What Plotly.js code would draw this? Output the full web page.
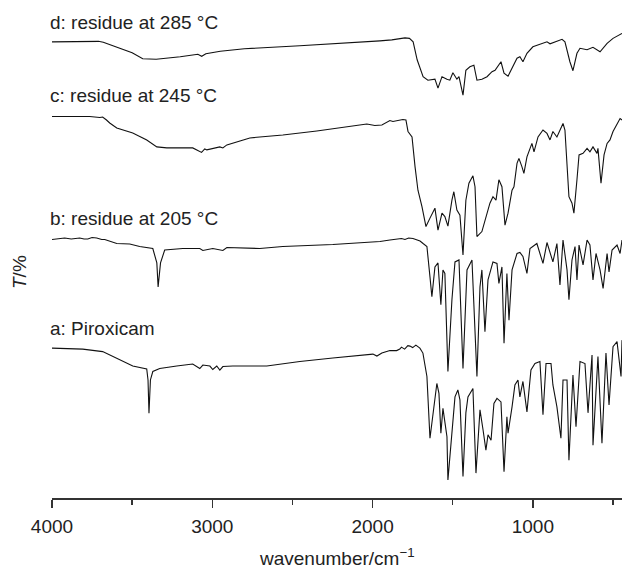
<!DOCTYPE html>
<html>
<head>
<meta charset="utf-8">
<script src="https://cdn.plot.ly/plotly-3.0.1.min.js"></script>
<style>html,body{margin:0;padding:0;background:#fff;}#chart{width:622px;height:572px;}</style>
</head>
<body>
<div id="chart"></div>
<script>
// Series labels
const labels = ["a: Piroxicam", "b: residue at 205 °C", "c: residue at 245 °C", "d: residue at 285 °C"];
const labelY = [34.1, 56.2, 80.9, 95.4];

// d: residue at 285 °C
const wn_d = [4000,3800,3710,3680,3600,3500,3434,3350,3200,3090,3066,3040,2950,2800,2454,2200,2000,1954,1880,1830,1798,1770,1747,1722,1685,1655,1611,1592,1567,1536,1518,1499,1474,1461,1436,1418,1393,1368,1349,1318,1286,1255,1236,1199,1180,1155,1130,1099,1081,1062,1037,1000,912,893,818,800,769,750,725,706,662,625,581,537,500,444];
const T_d = [91.6,91.6,91.7,91.5,90.6,89.4,88.2,88.1,88.6,89.1,88.7,89.2,89.7,90.2,90.8,91.3,91.6,91.8,92.0,92.2,92.4,92.3,91.6,88.0,84.6,83.9,84.1,82.3,84.6,84.1,83.9,85.4,84.1,84.6,80.9,85.9,86.6,86.9,83.9,84.1,84.6,85.6,85.9,87.6,85.3,84.7,86.3,88.3,88.6,87.6,89.3,90.6,91.6,91.2,92.1,91.6,87.6,85.8,89.3,90.3,90.0,90.5,89.6,91.3,92.3,93.3];

// c: residue at 245 °C
const wn_c = [4000,3827,3765,3702,3684,3660,3640,3596,3496,3409,3346,3284,3122,3067,3047,3034,2953,2934,2909,2766,2560,2348,2036,1986,1942,1892,1873,1811,1792,1779,1754,1735,1717,1692,1667,1642,1611,1592,1567,1549,1530,1505,1493,1474,1455,1436,1418,1399,1374,1361,1349,1318,1299,1268,1249,1230,1212,1193,1174,1155,1130,1118,1099,1087,1068,1056,1037,1006,993,968,937,912,893,875,850,812,800,787,775,756,744,725,712,687,662,644,625,600,594,575,556,537,519,500,475,456,444];
const T_c = [76.6,76.5,76.6,76.4,76.5,75.9,75.3,74.3,73.3,71.9,70.5,70.3,70.3,69.4,70.1,69.9,70.5,70.3,70.9,72.3,72.9,73.7,75.1,74.8,74.9,75.8,75.6,76.0,75.9,73.6,72.5,66.5,61.8,58.5,54.5,56.2,58.2,53.8,57.2,56.5,54.6,59.8,61.5,57.8,56.8,48.8,59.8,63.2,64.7,62.5,52.5,53.5,55.8,59.2,60.5,59.8,63.9,62.5,54.8,57.2,61.8,62.5,67.2,68.2,66.5,65.2,68.5,71.2,69.5,72.5,73.9,73.2,71.9,73.6,72.5,75.2,73.9,66.5,60.5,59.2,57.2,63.9,68.9,69.2,70.2,69.5,70.5,69.2,70.2,63.2,68.9,71.2,71.9,73.6,75.2,76.2,75.9];

// b: residue at 205 °C
const wn_b = [4000,3950,3921,3880,3827,3800,3777,3750,3721,3690,3671,3596,3515,3453,3371,3346,3338,3323,3297,3184,3078,3059,2997,2934,2909,2704,2560,2248,2036,1954,1892,1848,1820,1798,1775,1748,1725,1704,1685,1661,1642,1630,1611,1592,1574,1561,1549,1530,1505,1486,1461,1436,1411,1380,1349,1330,1318,1299,1280,1249,1224,1212,1193,1180,1162,1149,1130,1099,1081,1062,1037,1018,975,937,912,875,850,831,812,787,775,756,737,725,712,687,662,644,625,606,581,562,537,525,506,475,456,444];
const T_b = [51.9,52.0,52.2,52.0,52.2,52.0,52.0,52.3,52.2,51.9,51.9,51.1,51.0,50.5,50.1,47.2,42.4,47.2,49.8,50.1,50.1,49.7,50.1,49.7,50.3,50.1,50.5,50.9,51.3,51.5,51.8,51.9,52.1,51.9,52.2,52.1,51.9,51.6,51.1,50.5,44.4,40.4,46.4,47.2,38.8,45.8,45.1,25.4,39.8,47.4,47.8,26.0,45.8,47.8,24.4,42.4,45.8,33.4,43.8,47.4,47.1,43.1,46.4,31.1,45.1,35.7,45.8,49.1,49.3,48.5,45.1,50.1,51.1,47.1,51.3,47.4,51.1,42.8,51.8,45.8,39.8,47.8,50.5,43.8,50.8,46.8,51.8,50.8,43.8,49.1,45.8,42.1,49.1,45.4,49.8,50.8,49.1,51.8];

// a: Piroxicam
const wn_a = [4000,3808,3684,3596,3496,3409,3401,3395,3386,3371,3328,3222,3122,3078,3059,3015,2997,2972,2953,2934,2872,2660,2454,2248,1998,1973,1942,1892,1850,1830,1820,1800,1780,1767,1750,1730,1715,1705,1686,1661,1642,1624,1599,1586,1574,1561,1536,1530,1505,1486,1468,1455,1436,1418,1405,1374,1355,1330,1311,1293,1280,1261,1243,1224,1199,1180,1162,1155,1130,1112,1093,1081,1062,1037,1012,987,956,937,918,887,875,850,825,812,787,775,750,731,706,675,656,631,625,594,569,544,525,500,475,450,444];
const T_a = [30.1,29.9,29.4,28.1,26.5,25.9,23.7,17.0,23.7,25.4,26.0,26.5,26.9,26.0,26.7,26.5,25.8,26.5,25.7,26.4,26.5,26.5,27.4,28.1,28.9,28.5,29.1,29.6,29.6,29.9,30.3,29.9,30.6,30.5,30.2,30.7,30.3,30.1,29.1,24.4,12.0,17.1,23.0,21.0,13.0,18.0,12.3,3.6,13.7,20.3,21.7,19.7,4.3,17.1,20.3,22.0,5.0,17.7,13.7,9.6,12.7,11.6,19.0,20.0,19.3,5.3,16.3,13.0,18.3,22.7,23.7,20.3,23.4,17.3,25.7,27.0,27.4,16.7,27.0,27.0,22.7,18.3,12.0,23.7,23.7,7.6,24.7,14.3,27.4,27.0,17.1,28.7,10.6,28.4,11.0,29.1,18.7,30.4,31.4,24.4,31.7];

const xs = [wn_a, wn_b, wn_c, wn_d];
const ys = [T_a, T_b, T_c, T_d];

const FONT = '"Liberation Sans", Arial, Helvetica, sans-serif';

const traces = xs.map((x, i) => ({
  x: x, y: ys[i], type: 'scatter', mode: 'lines',
  line: {color: '#111', width: 1.1}, hoverinfo: 'skip', showlegend: false
}));

const annotations = labels.map((t, i) => ({
  text: t, x: 4000, y: labelY[i], xref: 'x', yref: 'y',
  xanchor: 'left', yanchor: 'middle', xshift: -4, showarrow: false,
  font: {family: FONT, size: 19, color: '#222'}
}));

annotations.push({
  text: '<i>T</i>/%', xref: 'paper', yref: 'paper', x: -0.056, y: 0.454,
  xanchor: 'center', yanchor: 'middle', textangle: -90, showarrow: false,
  font: {family: FONT, size: 19, color: '#222'}
});
annotations.push({
  text: 'wavenumber/cm<sup>−1</sup>', xref: 'paper', yref: 'paper', x: 0.5, y: -0.118,
  xanchor: 'center', yanchor: 'middle', showarrow: false,
  font: {family: FONT, size: 19, color: '#222'}
});

const layout = {
  width: 622, height: 572,
  margin: {l: 52, r: 0, t: 0, b: 74, pad: 0},
  paper_bgcolor: '#fff', plot_bgcolor: '#fff',
  font: {family: FONT, size: 19, color: '#222'},
  xaxis: {
    range: [4000, 444], autorange: false,
    tickmode: 'linear', tick0: 0, dtick: 1000,
    ticks: 'outside', ticklen: 8, tickwidth: 1.5, tickcolor: '#333',
    showline: true, linecolor: '#333', linewidth: 1.5,
    showgrid: false, zeroline: false,
    tickfont: {family: FONT, size: 19, color: '#222'},
    ticklabelstandoff: 3,
    minor: {dtick: 500, tick0: 0, ticks: 'outside', ticklen: 5, tickwidth: 1.5, tickcolor: '#333', showgrid: false}
  },
  yaxis: {
    range: [0, 100], autorange: false, visible: false
  },
  annotations: annotations
};

Plotly.newPlot('chart', traces, layout, {staticPlot: true, displayModeBar: false});
</script>
</body>
</html>
